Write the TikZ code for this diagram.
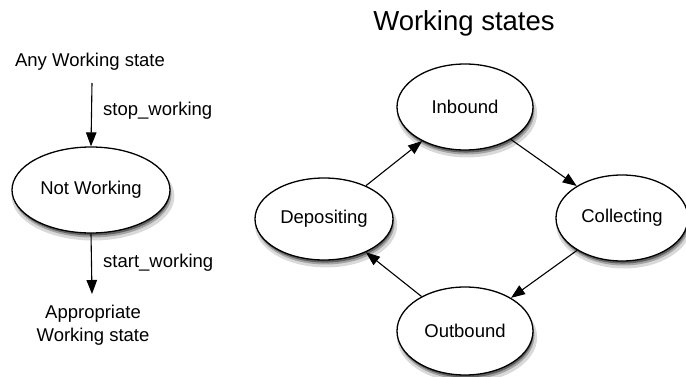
\documentclass[tikz,border=0pt]{standalone}
\usepackage{fontspec}
\setmainfont{Liberation Sans}
\usetikzlibrary{shapes.geometric,arrows.meta,shadows}
\begin{document}
\begin{tikzpicture}[x=1pt,y=-1pt,
  font=\fontsize{18.5}{22}\selectfont,
  st/.style={ellipse, draw=black, line width=1.3pt, fill=white, inner sep=0pt,
    drop shadow={shadow xshift=2pt, shadow yshift=-6pt, opacity=0.15, fill=black, shadow scale=1.03},
    drop shadow={shadow xshift=1.5pt, shadow yshift=-4.5pt, opacity=0.25, fill=black},
    drop shadow={shadow xshift=1pt, shadow yshift=-3pt, opacity=0.4, fill=black, shadow scale=0.99}},
  arr/.style={line width=1.1pt, -{Triangle[length=14pt,width=10.5pt]}},
  lbl/.style={inner sep=0pt, anchor=west}]
\useasboundingbox (0,0) rectangle (686,377);
\node[font=\fontsize{27.5}{32}\selectfont] (title) at (464,23) {Working states};
% left part
\node (any) at (90,62) {Any Working state};
\node[st, minimum width=158pt, minimum height=86pt] (nw) at (91,190) {Not Working};
\node[align=center, font=\fontsize{18.5}{22.5}\selectfont] (app) at (93,325) {Appropriate\\Working state};
\coordinate (a1) at (92,83);
\coordinate (a2) at (92,294);
\draw[arr] (a1) -- (nw.north);
\draw[arr] (nw.south) -- (a2);
\node[lbl] (stop) at (103,111) {stop\_working};
\node[lbl] (start) at (103,263) {start\_working};
% cycle
\node[st, minimum width=136pt, minimum height=86pt] (inb) at (465,107) {Inbound};
\node[st, minimum width=138pt, minimum height=82pt] (dep) at (324,219) {Depositing};
\node[st, minimum width=132pt, minimum height=86pt] (col) at (622,218) {Collecting};
\node[st, minimum width=136pt, minimum height=88pt] (out) at (465,331) {Outbound};
\draw[arr] (inb) -- (col);
\draw[arr] (col) -- (out);
\draw[arr] (out) -- (dep);
\draw[arr] (dep) -- (inb);
\end{tikzpicture}
\end{document}
